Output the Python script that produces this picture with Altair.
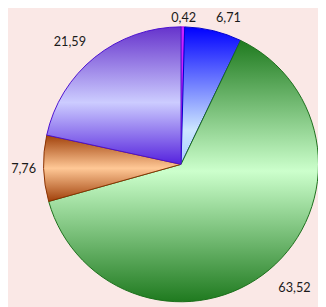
import altair as alt
import pandas as pd

# Data (clockwise from 12 o'clock)
categories = ["s1", "s2", "s3", "s4", "s5"]
values = [0.42, 6.71, 63.52, 7.76, 21.59]

# Styles: (dark, light, dark-bottom, stroke, light-stop-offset)
styles = {
    "s1": ("#cc22ff", "#cc22ff", "#cc22ff", "#aa00ee", 0.5),
    "s2": ("#0000ff", "#cce6ff", "#a8ccff", "#0000cc", 0.75),
    "s3": ("#1f7a1f", "#ccffcc", "#1f7a1f", "#1a6e1a", 0.5),
    "s4": ("#a0400a", "#ffc896", "#a0400a", "#8a3000", 0.5),
    "s5": ("#6633cc", "#ccccff", "#5522dd", "#4b0fd0", 0.55),
}

df = pd.DataFrame({"idx": list(range(len(values))), "cat": categories, "value": values})

W, H = 318, 299
CX, CY, R = 177.5, 156.5, 141
R0, HW, HH_TOP, HH_BOT = 153, 18, 6, 10
theta_scale = alt.Scale(domain=[0, 1])

base = alt.Chart(df).transform_stack(
    stack="value", groupby=[], as_=["start", "end"],
    sort=[alt.SortField("idx")], offset="normalize"
).transform_calculate(
    mid="(datum.start + datum.end) / 2",
    label="replace(format(datum.value, '.2f'), '.', ',')",
).transform_calculate(
    s="sin(2 * PI * datum.mid)",
    c="cos(2 * PI * datum.mid)",
).transform_calculate(
    lx=f"clamp({CX} + {R0} * datum.s + {HW} * clamp(3 * datum.s, -1, 1), 16, {W - 16})",
    ly=f"clamp({CY} - {R0} * datum.c - (datum.c > 0 ? {HH_TOP} : {HH_BOT}) * clamp(2 * datum.c, -1, 1), 7, {H - 7})",
)

layers = []
for cat in categories:
    d, l, d2, s, off = styles[cat]
    grad = {
        "gradient": "linear", "x1": 0, "y1": 0, "x2": 0, "y2": 1,
        "stops": [
            {"offset": 0, "color": d},
            {"offset": off, "color": l},
            {"offset": 1, "color": d2},
        ],
    }
    layers.append(
        base.transform_filter(alt.datum.cat == cat)
        .mark_arc(x=CX, y=CY, radius=R, fill=grad, stroke=s, strokeWidth=1)
        .encode(theta=alt.Theta("start:Q", scale=theta_scale), theta2="end:Q")
    )

labels = base.mark_text(
    font="Lato", fontSize=13, color="#1a1a1a",
    align="center", baseline="middle",
).encode(
    x=alt.X("lx:Q", scale=None),
    y=alt.Y("ly:Q", scale=None),
    text="label:N",
)

chart = alt.layer(*layers, labels).properties(
    width=W, height=H, autosize=alt.AutoSizeParams(type="none"), padding=0
).configure(background="#fae8e6").configure_view(stroke=None)

chart.save("out.html", embed_options={"renderer": "svg", "actions": False})
